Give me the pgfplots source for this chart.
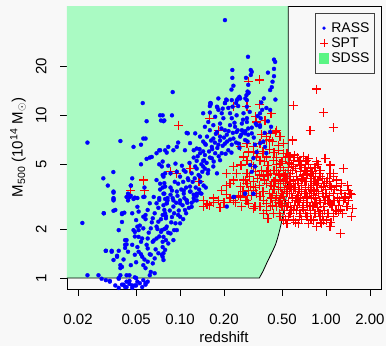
\documentclass[border=0pt]{standalone}
\usepackage{fontspec}
\setmainfont{Liberation Sans}
\usepackage{pgfplots}
\pgfplotsset{compat=1.18}
\definecolor{bg}{RGB}{248,248,248}
\definecolor{sdss}{HTML}{AAFAC3}
\definecolor{sdssleg}{HTML}{5AF584}
\begin{document}
\begin{tikzpicture}
\fill[bg] (-67pt,-57pt) rectangle (319pt,289pt);
\begin{axis}[
 scale only axis, width=314pt, height=283pt,
 at={(0,0)}, anchor=south west,
 xmode=log, ymode=log,
 xmin=0.0168, xmax=2.38, ymin=0.856, ymax=47,
 xtick={0.02,0.05,0.1,0.2,0.5,1,2},
 xticklabels={0.02,0.05,0.10,0.20,0.50,1.00,2.00},
 ytick={1,2,5,10,20}, yticklabels={1,2,5,10,20},
 minor tick style={draw=none},
 tick align=outside, major tick length=7pt,
 xtick pos=bottom, ytick pos=left,
 axis line style={line width=0.8pt},
 every tick/.style={black, line width=0.8pt},
 tick label style={font=\fontsize{15}{15}\selectfont},
 xticklabel style={yshift=-15pt},
 yticklabel style={rotate=90, anchor=south, yshift=10pt},
 label style={font=\fontsize{15}{15}\selectfont},
 xlabel={redshift},
 ylabel={M\textsubscript{500} (10\textsuperscript{14} M\textsubscript{$\odot$})},
 xlabel style={at={(rel axis cs:0.5,0)}, anchor=center, yshift=-48.5pt},
 ylabel style={at={(rel axis cs:0,0.5)}, anchor=center, yshift=49pt},
 legend style={at={(1,1)}, anchor=north east, xshift=-6pt, yshift=-7pt, draw=black!75, line width=1pt, fill=bg, font=\fontsize{14}{16}\selectfont, inner xsep=3pt, inner ysep=7pt, row sep=0pt, cells={anchor=west}},
]
\addlegendimage{only marks, mark=*, mark size=1.5pt, blue, line width=0.4pt}
\addlegendentry{RASS}
\addlegendimage{only marks, mark=+, mark size=4pt, red, line width=1pt}
\addlegendentry{SPT}
\addlegendimage{legend image code/.code={\fill[sdssleg] (0.13cm,-0.18cm) rectangle (0.47cm,0.18cm);}}
\addlegendentry{SDSS}

% SDSS region
\addplot[fill=sdss, draw=none, forget plot] coordinates {
(0.0168,1) (0.349,1) (0.37,1.1) (0.39,1.22) (0.41,1.34) (0.43,1.46) (0.45,1.6) (0.465,1.75) (0.48,1.95) (0.495,2.2) (0.51,2.5) (0.525,2.85) (0.538,3.3) (0.546,3.8) (0.55,4.5) (0.551,6) (0.551,47) (0.0168,47)} -- cycle;
\addplot[black, line width=0.8pt, forget plot] coordinates {
(0.0168,1) (0.349,1) (0.37,1.1) (0.39,1.22) (0.41,1.34) (0.43,1.46) (0.45,1.6) (0.465,1.75) (0.48,1.95) (0.495,2.2) (0.51,2.5) (0.525,2.85) (0.538,3.3) (0.546,3.8) (0.55,4.5) (0.551,6) (0.551,47)};

% SPT
\addplot[only marks, mark=+, mark size=4.5pt, red, line width=1.2pt, mark options={draw=red}, forget plot] table {
x y
0.098 8.7
0.046 3.45
0.056 4.0
0.057 3.45
0.293 16.1
0.348 16.5
0.287 11.3
0.349 11.7
0.232 11.3
0.335 9.1
0.42 10.3
0.862 14.5
0.597 11.5
0.96 10.4
1.12 8.4
0.777 8.1
0.59 7.05
1.31 4.7
1.5 3.25
1.42 3.0
1.52 2.68
1.5 2.4
1.25 1.88
1.065 2.07
0.935 2.17
1.21 2.56
1.12 3.0
1.18 3.65
1.25 3.45
0.16 9.6
0.183 8.1
1.065 4.4
1.01 3.9
1.18 3.72
1.46 3.3
1.31 3.0
1.39 2.74
1.25 2.62
1.065 2.88
0.96 3.16
0.91 2.38
0.96 2.27
0.82 2.27
0.74 2.38
0.664 2.5
0.6 2.62
0.646 3.0
0.74 3.16
0.82 3.47
0.86 3.8
0.91 4.2
0.8 4.4
0.718 4.6
0.664 4.95
0.6 5.3
0.55 5.55
0.51 5.85
0.47 6.1
0.74 5.3
0.68 4.0
0.614 3.8
0.567 3.65
0.54 3.4
0.51 3.16
0.484 2.88
0.46 2.74
0.54 2.74
0.567 2.5
0.484 2.38
0.436 2.5
0.414 2.74
0.39 2.88
0.372 3.0
0.353 3.16
0.335 3.3
0.318 3.47
0.302 3.65
0.287 3.8
0.272 4.0
0.436 3.65
0.39 3.8
0.372 4.2
0.414 4.4
0.46 4.6
0.484 5.05
0.436 5.3
0.47 3.8
0.524 4.2
0.353 2.74
0.372 2.5
0.4 2.33
0.326 2.74
0.293 2.88
0.279 3.0
0.265 2.74
0.51 2.27
0.54 2.17
0.6 2.27
0.646 2.17
0.7 2.62
0.777 2.74
0.86 2.88
0.96 2.74
1.03 2.5
1.12 2.38
0.886 2.56
0.76 2.17
0.86 2.07
0.984 3.0
1.15 3.0
1.21 2.8
1.35 3.1
1.42 3.47
0.117 4.7
0.086 4.5
0.22 3.8
0.244 4.4
0.265 4.95
0.287 5.3
0.279 4.0
0.209 3.25
0.183 3.0
0.16 2.8
0.144 2.75
0.232 3.0
0.258 3.65
0.293 3.47
0.287 3.0
0.193 3.45
0.144 3.0
0.153 2.85
0.169 3.1
0.188 2.7
0.258 3.15
0.318 2.68
0.209 4.4
0.232 4.85
0.258 4.95
0.272 5.55
0.293 5.95
0.318 6.4
0.353 6.75
0.39 7.4
0.414 7.75
0.448 7.9
0.484 7.4
0.51 6.75
0.54 5.85
0.39 5.55
0.353 5.3
0.318 4.85
0.287 4.4
0.232 4.0
0.209 3.7
0.258 6.4
0.287 6.75
0.318 5.95
0.335 5.55
0.41 7.05
0.46 8.1
0.382 9.3
0.33 9.8
0.567 5.55
0.6 4.85
0.664 5.3
0.76 5.45
0.86 5.2
0.984 5.45
1.065 4.95
0.91 4.6
0.82 4.2
0.74 4.4
1.12 4.4
1.18 4.0
1.065 3.72
0.96 3.65
0.84 3.9
1.12 3.3
1.28 3.3
1.35 3.16
1.03 3.0
1.12 2.5
0.91 2.5
0.82 2.74
1.01 2.27
0.095 4.4
0.135 3.9
0.42 3.1
0.44 3.5
0.45 4.0
0.46 3.2
0.47 2.9
0.48 4.3
0.49 3.6
0.50 3.3
0.51 4.6
0.52 3.0
0.53 3.8
0.54 4.1
0.55 2.9
0.56 3.3
0.57 4.4
0.58 3.6
0.59 3.1
0.60 4.0
0.61 2.8
0.62 3.5
0.63 4.2
0.64 3.2
0.65 3.8
0.66 2.9
0.67 4.5
0.68 3.4
0.70 3.0
0.71 3.9
0.72 4.8
0.73 3.3
0.75 2.8
0.76 3.6
0.78 4.1
0.80 3.1
0.82 3.7
0.84 2.9
0.86 3.4
0.88 4.0
0.90 3.0
0.93 3.6
0.46 5.0
0.50 5.2
0.55 4.8
0.58 5.0
0.62 4.7
0.65 5.2
0.68 4.9
0.44 4.6
0.40 4.9
0.38 5.2
0.36 4.6
0.34 4.1
0.37 3.4
0.41 3.3
0.43 2.8
0.39 2.6
0.52 2.6
0.57 2.7
0.63 2.6
0.69 2.7
0.72 2.5
0.78 2.6
0.48 2.5
0.55 2.4
0.60 2.3
0.66 2.4
0.53 5.5
0.61 5.7
0.70 5.6
0.76 5.0
0.84 4.8
0.95 4.1
1.0 3.3
1.05 3.9
1.1 2.8
1.15 3.5
1.2 3.1
0.98 2.6
0.92 2.2
1.08 2.2
1.3 2.5
1.4 3.7
0.44 3.9
0.47 4.4
0.51 3.9
0.54 3.4
0.57 3.9
0.60 3.5
0.63 3.1
0.66 3.5
0.69 4.1
0.72 3.6
0.75 4.3
0.79 3.5
0.82 3.2
0.85 4.4
0.89 3.3
0.97 3.8
0.50 2.8
0.58 2.6
0.64 2.8
0.74 3.1
0.81 2.8
0.87 2.7
0.30 4.2
0.32 3.9
0.33 4.5
0.35 3.7
0.38 4.0
0.40 4.3
0.42 3.7
0.31 5.0
0.34 5.8
0.37 6.0
0.41 6.2
0.44 5.9
0.47 6.5
0.43 6.9
0.39 7.0
0.36 7.6
0.43 3.3
0.45 3.0
0.47 3.5
0.49 4.0
0.49 3.1
0.52 3.5
0.53 4.4
0.55 3.7
0.56 4.2
0.58 3.3
0.59 4.6
0.61 3.6
0.62 3.0
0.64 4.0
0.65 3.4
0.67 3.1
0.68 3.7
0.70 4.3
0.71 3.3
0.73 3.9
0.74 2.9
0.77 3.3
0.79 3.9
0.81 4.5
0.83 3.4
0.85 3.1
0.87 3.7
0.90 4.4
0.92 2.9
0.94 3.3
0.99 3.5
1.02 4.1
1.06 3.2
1.09 3.6
1.13 4.2
1.17 2.6
1.24 3.0
1.27 3.8
0.53 2.3
0.62 2.2
0.68 2.3
0.79 2.3
0.84 2.5
0.95 2.4
0.46 5.5
0.49 4.8
0.56 5.1
0.64 5.5
0.72 5.2
0.78 4.7
0.88 5.0
0.39 4.5
0.35 4.3
0.33 3.6
0.31 3.2
0.27 3.4
0.25 3.2
0.24 2.9
0.22 3.1
0.20 2.9
0.17 2.9
};

% RASS
\addplot[only marks, mark=*, mark size=2pt, blue, line width=0.3pt, forget plot] table {
x y
0.203 38.5
0.0232 6.8
0.0214 2.18
0.0555 11.9
0.089 13.9
0.039 6.95
0.0349 4.48
0.0298 4.1
0.0232 1.04
0.0276 1.04
0.0290 0.99
0.292 22.9
0.44 22
0.448 21.3
0.228 19
0.305 19
0.228 17
0.305 17.7
0.283 17
0.232 15.2
0.225 14.4
0.295 13.8
0.285 13.3
0.28 12.7
0.255 13.0
0.245 12.4
0.242 11.9
0.25 11.4
0.183 12.7
0.207 12.5
0.203 11.9
0.226 12.4
0.162 11.9
0.16 11.4
0.18 11.2
0.196 11.0
0.31 18.5
0.4 18.3
0.44 19.3
0.44 17.4
0.43 16.1
0.425 14.9
0.414 14.3
0.293 15.4
0.29 14.0
0.258 12.7
0.375 12.7
0.39 11.1
0.365 10.8
0.353 10.3
0.287 9.6
0.357 9.6
0.353 8.7
0.33 8.9
0.414 10.8
0.287 9.1
0.335 8.7
0.353 8.5
0.414 7.9
0.265 8.1
0.279 7.75
0.293 7.6
0.31 7.75
0.326 6.6
0.353 6.75
0.372 6.9
0.382 6.4
0.39 5.85
0.335 5.95
0.318 5.45
0.302 4.95
0.326 4.85
0.31 4.5
0.279 3.3
0.318 3.3
0.235 3.15
0.036 0.90
0.038 0.87
0.040 0.91
0.042 0.88
0.045 0.92
0.047 0.87
0.050 0.90
0.053 0.93
0.055 0.88
0.058 0.91
0.060 0.95
0.033 0.95
0.031 0.97
0.043 0.95
0.038 0.99
0.043 1.04
0.049 1.01
0.030 2.5
0.035 3.05
0.035 2.59
0.040 2.47
0.0415 2.52
0.038 1.97
0.040 2.21
0.043 1.71
0.042 1.6
0.042 1.53
0.031 1.47
0.034 1.45
0.037 1.35
0.035 1.29
0.039 1.2
0.039 1.15
0.033 0.96
0.038 1.0
0.039 1.04
0.045 1.04
0.045 0.96
0.050 1.0
0.051 0.95
0.049 0.9
0.056 0.97
0.058 0.93
0.041 0.91
0.043 0.88
0.047 0.9
0.045 3.14
0.049 3.12
0.057 3.16
0.072 3.02
0.079 3.06
0.078 2.62
0.051 2.74
0.052 2.56
0.060 2.62
0.062 2.88
0.058 2.44
0.065 2.33
0.071 2.22
0.076 2.44
0.080 2.33
0.069 2.07
0.074 1.92
0.080 2.02
0.063 2.02
0.056 2.02
0.051 2.07
0.049 1.92
0.052 1.79
0.054 1.67
0.060 1.75
0.065 1.67
0.069 1.75
0.076 1.67
0.080 1.71
0.060 1.52
0.052 1.45
0.049 1.39
0.055 1.35
0.063 1.39
0.067 1.32
0.071 1.42
0.076 1.35
0.060 1.26
0.056 1.2
0.065 1.23
0.063 1.09
0.058 1.15
0.067 1.07
0.073 10.0
0.059 9.2
0.078 9.3
0.056 7.2
0.058 7.2
0.054 6.6
0.048 6.4
0.072 6.1
0.081 5.9
0.059 5.4
0.062 5.5
0.054 5.0
0.076 5.2
0.072 5.0
0.032 3.7
0.035 3.35
0.035 3.1
0.047 4.1
0.046 3.7
0.044 3.3
0.046 3.2
0.048 3.06
0.057 3.6
0.056 3.15
0.051 3.1
0.073 3.5
0.076 3.6
0.078 3.83
0.076 4.3
0.079 4.4
0.072 3.1
0.078 3.3
0.082 3.1
0.162 11.7
0.179 11.3
0.203 11.9
0.229 11.3
0.193 10.3
0.214 11.1
0.144 10.3
0.160 10.4
0.174 9.8
0.198 9.6
0.226 9.6
0.244 10.0
0.272 10.3
0.287 11.3
0.265 8.9
0.238 8.5
0.22 8.7
0.188 8.9
0.169 8.7
0.156 9.1
0.148 8.5
0.160 8.1
0.179 7.9
0.203 8.1
0.244 7.9
0.272 7.9
0.293 8.3
0.258 7.4
0.232 7.2
0.209 7.6
0.188 7.4
0.169 7.2
0.153 7.4
0.148 6.7
0.165 6.4
0.183 6.6
0.203 6.7
0.226 6.6
0.252 6.7
0.279 7.05
0.174 5.85
0.193 5.85
0.214 6.1
0.188 5.3
0.165 5.45
0.148 5.7
0.137 5.85
0.13 6.25
0.117 6.75
0.124 6.1
0.108 6.1
0.097 6.8
0.090 6.1
0.079 6.1
0.073 6.1
0.088 10.0
0.077 9.2
0.113 7.75
0.127 7.75
0.137 7.4
0.144 6.9
0.083 4.9
0.093 5.05
0.103 4.9
0.106 4.6
0.095 4.5
0.086 4.4
0.077 4.2
0.073 3.8
0.079 3.65
0.088 3.45
0.097 3.8
0.106 3.45
0.113 4.1
0.117 3.65
0.124 3.25
0.13 3.0
0.111 3.0
0.1 3.0
0.09 3.0
0.081 2.88
0.137 4.2
0.144 4.85
0.156 4.6
0.169 4.85
0.179 4.4
0.127 4.85
0.13 5.25
0.144 5.25
0.066 3.15
0.069 2.88
0.064 5.55
0.069 4.0
0.075 4.85
0.077 3.3
0.086 3.25
0.095 3.4
0.106 3.3
0.117 3.4
0.13 3.3
0.081 2.88
0.09 2.75
0.1 2.88
0.111 3.0
0.124 3.1
0.079 2.5
0.088 2.37
0.097 2.44
0.108 2.62
0.093 2.17
0.081 2.07
0.086 1.88
0.077 1.79
0.083 1.63
0.079 1.49
0.075 1.39
0.077 1.29
0.09 1.71
0.075 1.97
0.1 2.17
0.095 1.97
0.209 2.75
0.232 3.15
0.279 3.3
0.318 3.3
0.161 11.9
0.183 10.8
0.209 12.4
0.25 12.7
0.22 10.3
0.293 13.7
0.287 12.4
0.111 7.8
0.076 10.0
0.074 9.3
0.083 6.4
0.095 6.4
0.069 5.85
0.046 3.7
0.043 3.15
0.044 3.0
0.035 3.4
0.035 3.0
0.036 2.62
0.04 2.5
0.03 2.5
0.047 2.5
0.05 2.27
0.048 1.97
0.052 1.97
0.056 2.38
0.031 1.47
0.034 1.47
0.037 1.37
0.038 1.47
0.04 1.17
0.042 1.71
0.043 1.61
0.041 1.3
0.044 1.45
0.046 1.2
0.047 1.6
0.049 1.8
0.050 1.25
0.051 1.55
0.053 2.1
0.054 1.4
0.055 1.75
0.057 1.3
0.058 2.3
0.059 1.6
0.061 1.9
0.062 1.4
0.064 2.2
0.066 1.7
0.067 2.5
0.068 1.5
0.070 2.0
0.071 2.7
0.072 1.8
0.074 2.3
0.076 1.55
0.077 2.8
0.078 2.0
0.080 2.4
0.082 3.0
0.083 1.9
0.085 2.6
0.086 3.6
0.087 2.2
0.089 3.1
0.091 2.5
0.092 3.9
0.094 2.9
0.096 3.2
0.098 2.6
0.100 4.2
0.102 3.5
0.104 2.8
0.105 3.9
0.107 3.1
0.109 4.5
0.110 3.6
0.112 2.9
0.114 4.0
0.116 5.1
0.118 3.4
0.120 4.4
0.122 3.9
0.124 5.5
0.126 4.1
0.128 3.6
0.130 4.7
0.132 5.6
0.134 4.3
0.136 6.2
0.138 3.9
0.140 5.0
0.142 4.5
0.144 6.0
0.146 5.3
0.148 4.7
0.150 6.6
0.152 5.1
0.155 4.4
0.158 6.0
0.160 5.5
0.163 7.0
0.166 6.2
0.170 5.2
0.173 6.8
0.176 7.7
0.180 6.3
0.184 5.6
0.188 7.0
0.192 8.3
0.196 6.5
0.200 7.3
0.205 5.8
0.210 6.9
0.215 8.0
0.220 7.1
0.225 5.9
0.230 7.8
0.236 9.0
0.242 6.8
0.248 8.1
0.255 6.3
0.262 7.6
0.27 9.4
0.28 8.0
0.29 6.9
0.30 10.5
0.31 8.4
0.32 7.3
0.34 9.9
0.36 12.0
0.38 7.8
0.40 9.2
0.42 8.5
0.45 12.5
0.105 2.3
0.110 2.5
0.115 2.7
0.12 2.9
0.125 3.0
0.13 3.2
0.135 3.5
0.14 3.3
0.145 3.7
0.15 3.6
0.062 1.04
0.077 1.42
0.091 1.97
0.1 2.38
0.12 2.74
0.137 3.33
};
\end{axis}
\pgfresetboundingbox
\useasboundingbox (-67pt,-57pt) rectangle (319pt,289pt);
\end{tikzpicture}
\end{document}
